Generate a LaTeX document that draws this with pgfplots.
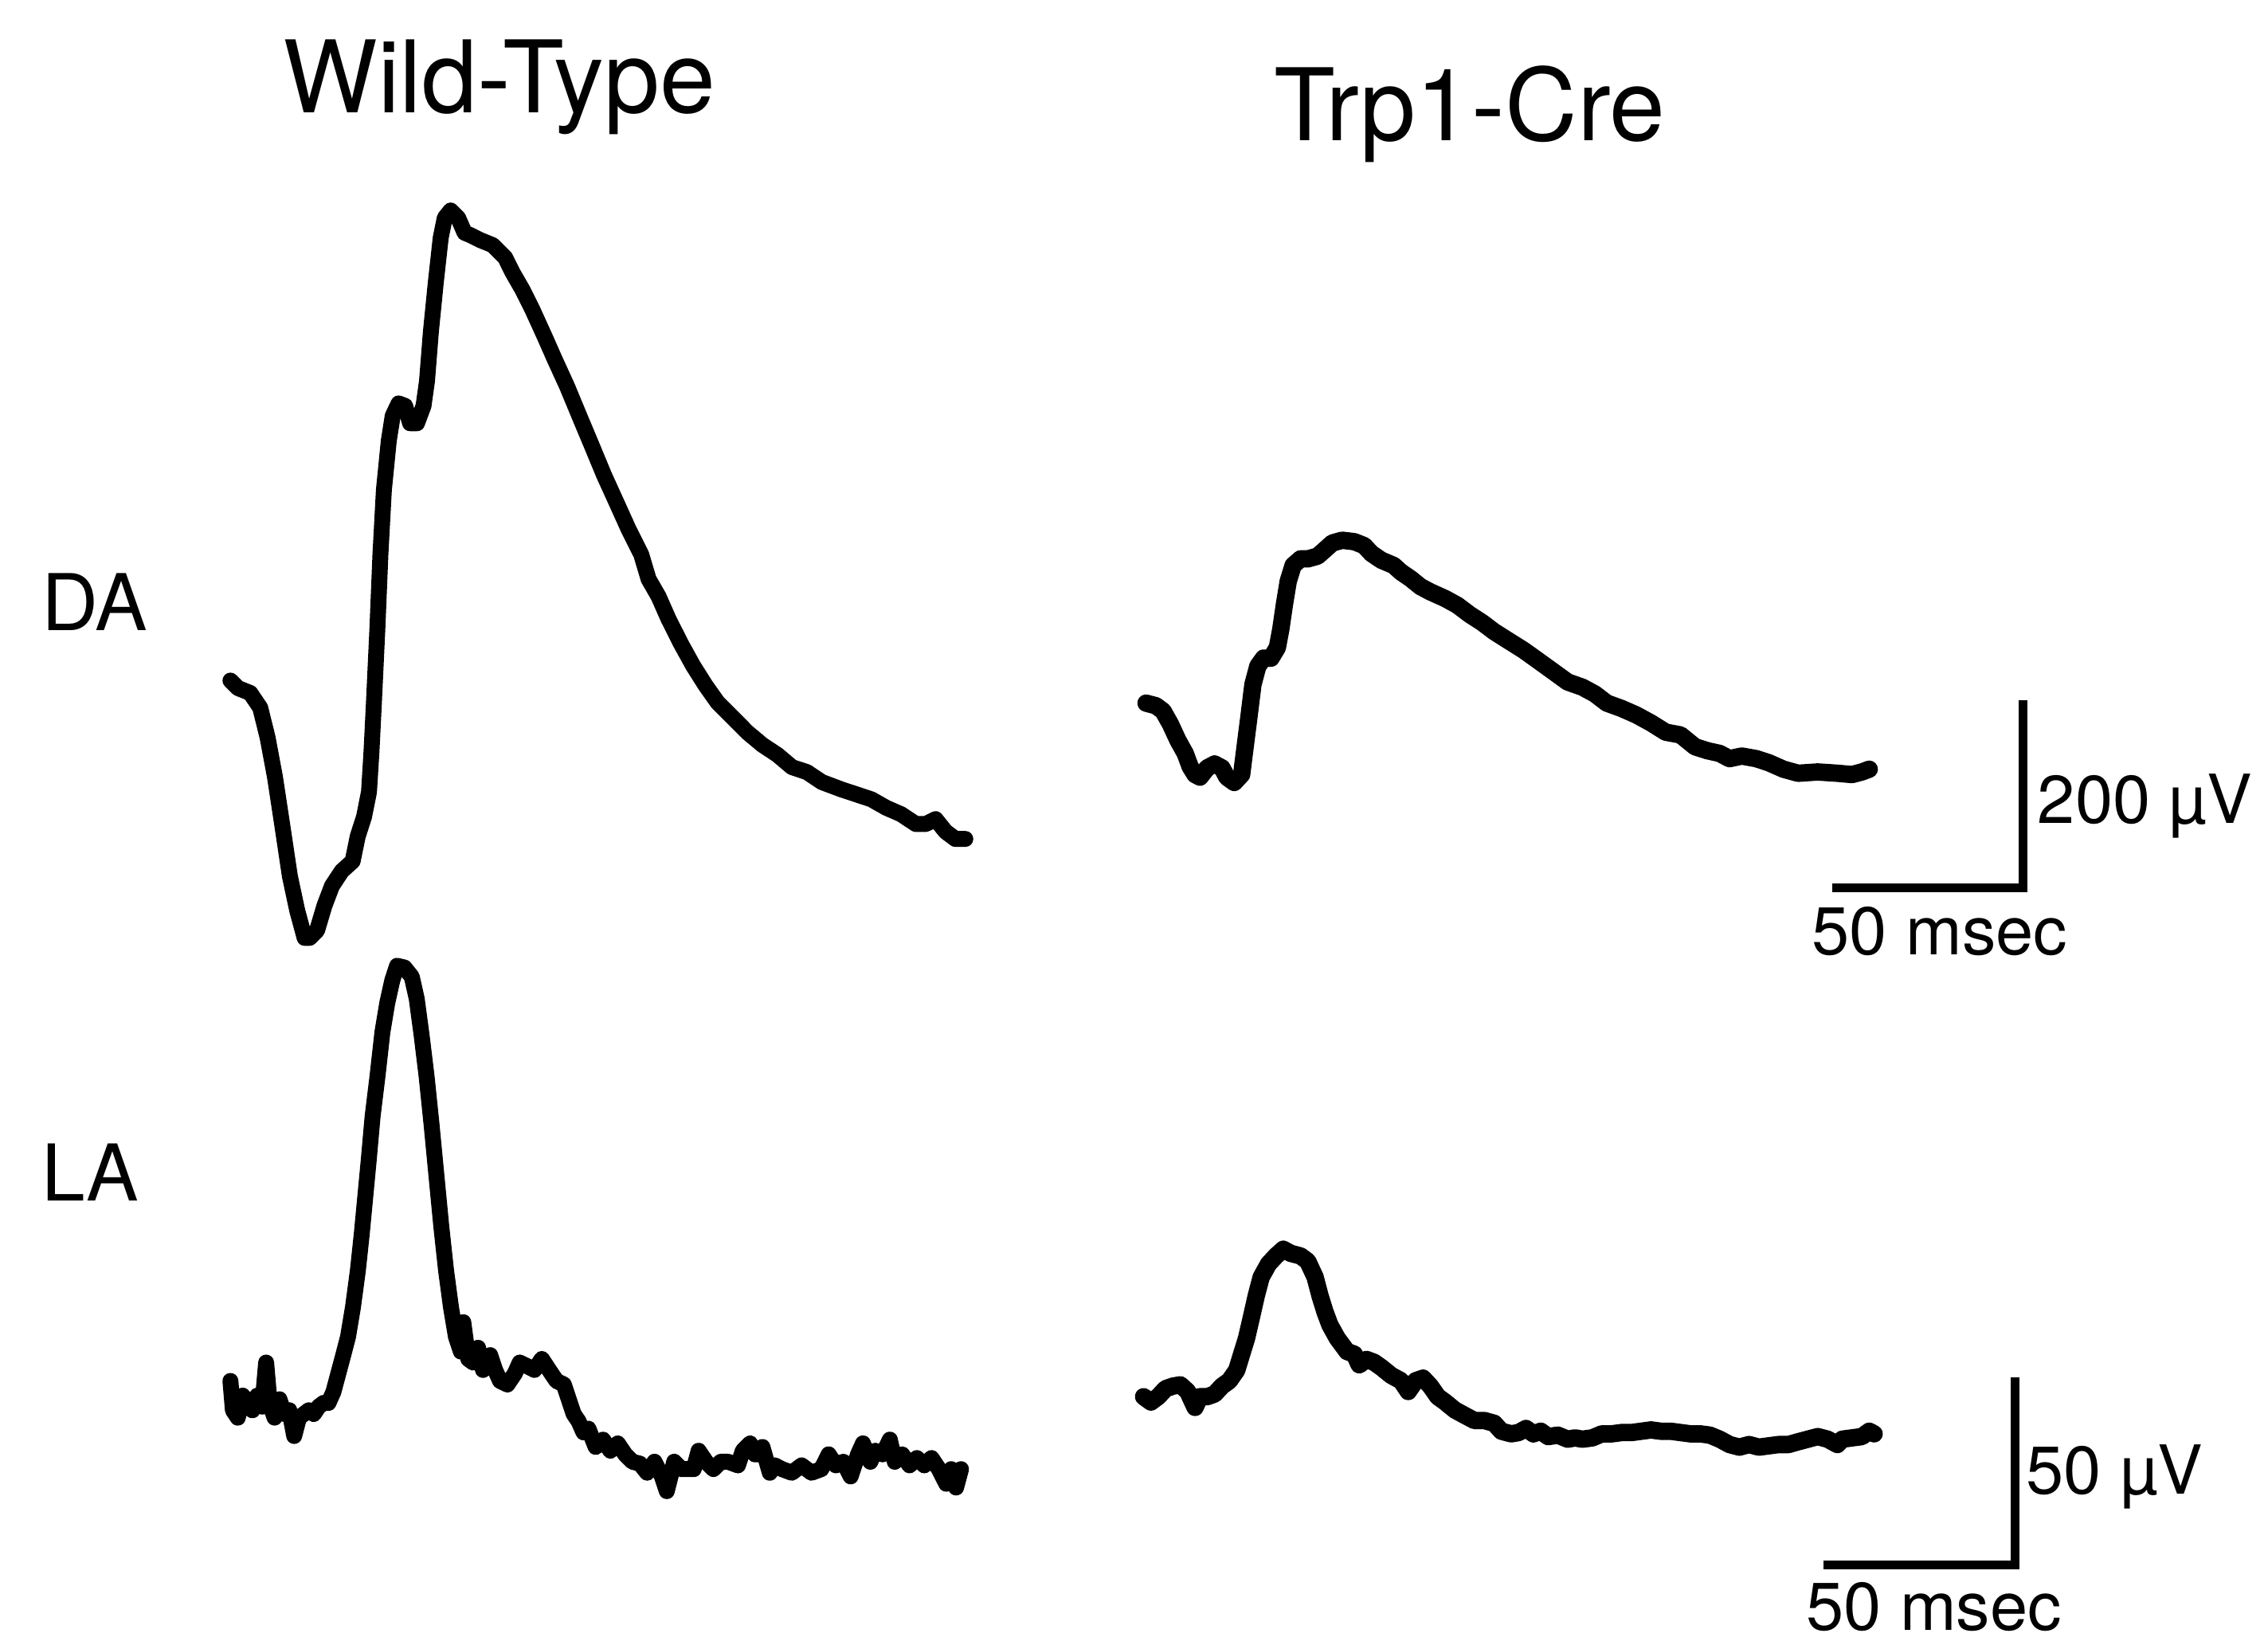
\documentclass[border=0pt]{standalone}
\usepackage{fontspec}
\setmainfont{TeX Gyre Heros}
\usepackage{pgfplots}
\pgfplotsset{compat=1.18}

\begin{document}
\begin{tikzpicture}
\begin{axis}[
  scale only axis,
  width=15.68cm, height=11.37cm,
  xmin=0, xmax=1568, ymin=0, ymax=1137,
  y dir=reverse,
  hide axis, clip=false,
  trace/.style={black, line width=1.1mm, line join=round, line cap=round, mark=none},
  bar/.style={black, line width=0.6mm, line cap=rect, mark=none},
]
% keeps the page as large as the whole panel
\addplot[draw=none] coordinates {(0,0) (1568,1137)};

% Wild-Type, DA
\addplot[trace] coordinates {
(159.3,470.5)(164.5,475.7)(173.0,479.1)(179.9,489.3)(185.0,509.9)(190.1,537.2)
(195.3,571.5)(200.4,605.7)(205.5,629.6)(210.6,648.4)(214.1,648.4)(219.2,643.3)
(224.3,626.2)(229.5,612.5)(236.3,602.2)(243.8,595.4)(247.3,578.3)(251.7,564.6)
(255.1,547.5)(256.8,520.1)(258.5,485.9)(260.9,434.6)(263.0,383.3)(265.4,338.8)
(268.8,304.6)(271.5,287.5)(275.6,278.9)(280.1,280.6)(283.5,292.6)(288.3,292.6)
(292.8,280.6)(295.2,263.5)(297.9,229.3)(301.3,195.1)(304.7,164.3)(307.5,150.6)
(311.6,145.5)(316.7,150.6)(321.2,160.9)(325.3,162.6)(332.1,166.0)(340.7,169.5)
(349.2,178.0)(354.3,188.3)(361.2,200.3)(368.0,213.9)(376.6,232.8)(383.4,248.2)
(392.0,267.0)(400.5,287.5)(409.1,308.0)(417.6,328.5)(426.2,347.4)(434.7,366.2)
(443.3,383.3)(448.4,400.4)(455.3,412.4)(462.1,427.8)(470.7,444.9)(479.2,460.3)
(487.8,473.9)(496.3,485.9)(506.6,496.2)(516.8,506.4)(527.1,515.0)(537.4,521.8)
(547.6,530.4)(557.9,533.8)(568.2,540.7)(581.8,545.8)(592.1,549.2)(602.4,552.6)
(612.6,558.4)(622.9,562.9)(633.2,569.7)(640.0,569.7)(646.8,566.3)(653.7,574.9)
(660.5,580.0)(667.4,580.0)
};

% Trp1-Cre, DA
\addplot[trace, line width=1.2mm] coordinates {
(792.3,486.1)(799.1,487.9)(804.1,491.6)(809.2,500.7)(814.3,511.7)(819.4,520.9)
(822.8,530.0)(826.2,535.5)(829.6,537.3)(834.6,530.9)(839.7,528.2)(844.8,530.9)
(848.2,537.3)(853.3,541.0)(858.4,535.5)(860.7,517.2)(863.5,495.2)(866.2,473.3)
(869.6,460.5)(873.6,455.0)(878.7,455.0)(883.1,447.7)(885.5,434.9)(887.9,418.4)
(890.6,401.9)(894.0,390.9)(899.1,386.4)(904.1,386.4)(910.9,384.5)(916.0,380.0)
(921.1,375.4)(927.9,373.5)(936.3,374.5)(943.1,377.2)(948.2,382.7)(955.0,387.3)
(963.5,390.9)(968.6,395.5)(975.3,400.1)(982.1,405.6)(988.9,409.2)(999.1,413.8)
(1007.5,418.4)(1016.0,424.8)(1024.5,430.3)(1033.0,436.7)(1043.1,443.1)(1053.3,449.5)
(1063.5,456.8)(1073.6,464.1)(1083.8,471.5)(1094.0,475.1)(1102.5,479.7)(1110.9,486.1)
(1121.1,489.8)(1131.3,494.3)(1141.4,499.8)(1151.6,506.2)(1161.8,508.1)(1171.9,516.3)
(1180.4,519.0)(1188.9,520.9)(1195.7,524.5)(1204.2,522.7)(1214.2,524.5)(1222.8,527.3)
(1233.0,531.8)(1243.1,534.6)(1256.7,533.7)(1270.3,534.6)(1280.4,535.5)(1287.2,533.7)
(1292.3,531.8)
};

% Wild-Type, LA
\addplot[trace] coordinates {
(159.3,954.7)(161.0,975.0)(164.4,980.1)(167.8,964.9)(171.2,969.9)(174.5,975.0)
(177.9,964.9)(181.3,972.5)(184.0,942.0)(186.4,969.9)(189.8,980.1)(193.2,967.4)
(196.6,977.6)(200.0,975.0)(203.4,992.8)(206.7,980.1)(210.1,977.6)(213.5,975.0)
(216.9,977.6)(220.3,972.5)(223.7,969.9)(227.1,969.9)(230.5,962.3)(233.9,949.6)
(237.3,936.9)(240.6,924.2)(244.0,903.9)(247.4,878.5)(250.1,853.1)(252.5,827.7)
(254.9,802.3)(257.6,771.8)(261.0,743.9)(264.4,713.4)(267.8,693.1)(271.2,677.8)
(274.5,667.7)(279.6,668.9)(284.7,675.3)(288.1,690.5)(291.5,715.9)(294.9,743.9)
(298.3,776.9)(301.7,812.5)(305.1,848.0)(308.4,878.5)(311.8,903.9)(315.2,924.2)
(318.6,934.4)(320.3,914.1)(323.7,939.5)(327.1,942.0)(330.5,931.8)(333.9,947.1)
(338.9,936.9)(342.3,947.1)(345.7,954.7)(350.8,957.2)(355.9,949.6)(359.3,942.0)
(364.4,944.5)(369.5,947.1)(374.6,939.5)(379.6,947.1)(384.7,954.7)(389.8,957.2)
(393.2,967.4)(396.6,977.6)(400.0,982.6)(403.4,990.3)(406.8,987.7)(411.8,1000.4)
(416.9,995.3)(422.0,1003.0)(427.1,997.9)(432.2,1005.5)(437.3,1010.6)(442.4,1011.9)
(447.4,1018.2)(452.5,1010.6)(457.6,1020.7)(461.0,1030.9)(466.1,1010.6)(471.2,1015.7)
(476.2,1015.7)(479.6,1015.7)(483.0,1003.0)(488.1,1010.6)(493.2,1015.7)(498.3,1010.6)
(503.4,1010.6)(510.2,1013.1)(513.5,1003.0)(518.6,997.9)(522.0,1005.5)(523.7,1005.5)
(527.1,1000.4)(532.2,1018.2)(535.6,1013.1)(540.7,1015.7)(547.4,1018.2)(554.2,1013.1)
(561.0,1018.2)(567.8,1015.7)(572.9,1005.5)(577.9,1013.1)(583.0,1010.6)(588.1,1020.7)
(593.2,1005.5)(596.6,997.9)(601.7,1010.6)(605.1,1003.0)(610.2,1005.5)(615.2,995.3)
(618.6,1010.6)(623.7,1005.5)(628.8,1013.1)(633.9,1008.0)(639.0,1013.1)(644.0,1008.0)
(649.1,1015.7)(654.2,1025.8)(657.6,1015.7)(661.0,1028.4)(664.4,1015.7)
};

% Trp1-Cre, LA
\addplot[trace, line width=1.2mm] coordinates {
(790.6,965.6)(795.7,969.3)(800.7,965.6)(805.8,960.1)(810.9,958.3)(816.0,957.4)
(821.1,962.0)(826.2,973.0)(829.6,965.6)(834.6,965.6)(839.7,963.8)(844.8,958.3)
(849.9,954.6)(855.0,947.3)(858.4,936.2)(861.8,925.2)(865.2,910.5)(868.5,895.9)
(871.9,883.0)(877.0,873.8)(882.1,868.3)(887.2,863.7)(892.3,866.5)(899.1,868.3)
(904.1,872.0)(909.2,883.0)(912.6,895.9)(916.0,906.9)(919.4,916.0)(924.5,925.2)
(931.3,934.4)(936.3,936.2)(939.7,943.6)(944.8,939.9)(949.9,941.8)(955.0,945.4)
(961.8,950.9)(968.6,954.6)(973.6,962.0)(978.7,954.6)(983.8,952.8)(988.9,958.3)
(994.0,965.6)(999.1,969.3)(1005.8,974.8)(1012.6,978.5)(1019.4,982.1)(1026.2,982.1)
(1033.0,984.0)(1038.0,989.5)(1044.8,991.3)(1049.9,990.4)(1055.0,987.6)(1060.1,991.3)
(1065.2,989.5)(1070.3,993.2)(1077.0,992.2)(1083.8,995.0)(1088.9,994.1)(1094.0,995.0)
(1100.8,994.1)(1107.5,991.3)(1114.3,991.3)(1121.1,990.4)(1127.9,990.4)(1134.7,989.5)
(1141.4,988.6)(1148.2,989.5)(1155.0,989.5)(1161.8,990.4)(1168.6,991.3)(1175.3,991.3)
(1182.1,992.2)(1188.9,995.0)(1195.7,998.7)(1202.5,1000.5)(1209.2,998.7)(1216.0,1000.5)
(1222.8,999.6)(1229.6,998.7)(1236.4,998.7)(1243.1,996.8)(1249.9,995.0)(1256.7,993.2)
(1263.5,995.0)(1270.3,998.7)(1273.6,995.0)(1280.4,994.1)(1287.2,993.2)(1292.3,989.5)
(1295.7,991.3)
};

% scale bars
\addplot[bar] coordinates {(1269.7,614) (1398.5,614) (1398.5,487)};
\addplot[bar] coordinates {(1263.5,1082) (1393.2,1082) (1393.2,955)};

% titles and labels
\node[anchor=base west, inner sep=0pt, font=\fontsize{19.7}{22}\selectfont] at (axis cs:195,78) {Wild-Type};
\node[anchor=base west, inner sep=0pt, font=\fontsize{19.7}{22}\selectfont] at (axis cs:880,97) {Trp1-Cre};
\node[anchor=base west, inner sep=0pt, font=\fontsize{15.4}{18}\selectfont] at (axis cs:28,436) {DA};
\node[anchor=base west, inner sep=0pt, font=\fontsize{15.4}{18}\selectfont] at (axis cs:28,830) {LA};
\node[anchor=base west, inner sep=0pt, font=\fontsize{13.3}{16}\selectfont] at (axis cs:1408,569) {200 µV};
\node[anchor=base west, inner sep=0pt, font=\fontsize{13.3}{16}\selectfont] at (axis cs:1252,660) {50 msec};
\node[anchor=base west, inner sep=0pt, font=\fontsize{13.3}{16}\selectfont] at (axis cs:1400,1033) {50 µV};
\node[anchor=base west, inner sep=0pt, font=\fontsize{13.3}{16}\selectfont] at (axis cs:1248,1127) {50 msec};
\end{axis}
\end{tikzpicture}
\end{document}
